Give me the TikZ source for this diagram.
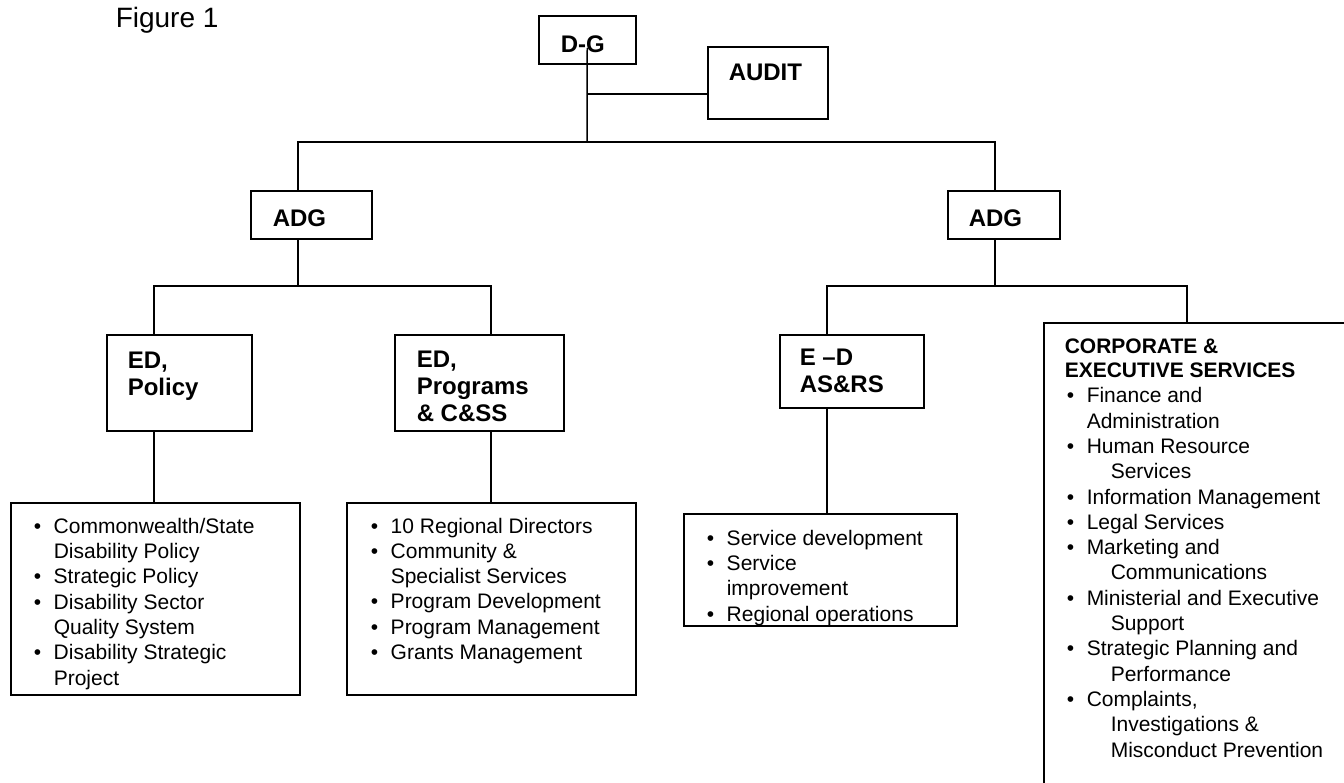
\documentclass[tikz,border=0pt]{standalone}
\usepackage{fontspec}
\setmainfont{Liberation Sans}
\newcommand{\bul}{\makebox[10pt][l]{\textbullet}}
\newcommand{\ind}[1][10pt]{\hspace*{#1}}
\begin{document}
\begin{tikzpicture}[x=0.5pt,y=-0.5pt,line width=0.75pt,
    box/.style 2 args={draw, anchor=north west, inner sep=0pt, minimum width=#1*0.5pt, minimum height=#2*0.5pt},
    head/.style={anchor=base west, inner sep=0pt, align=left, font=\bfseries\fontsize{12}{13.5}\selectfont},
    items/.style={anchor=base west, inner sep=0pt, align=left, font=\fontsize{10.5}{12.65}\selectfont}]
    \useasboundingbox (0,0) rectangle (1344,782);
    \clip (0,0) rectangle (1344,782);
    \node [anchor=base west, inner sep=0pt, font=\fontsize{14}{16}\selectfont] (fig) at (115,27) {Figure 1};
    \node [box={97}{48}] (dg) at (538,15) {};
    \node [box={120}{72}] (audit) at (707,46) {};
    \node [box={121}{48}] (adgl) at (250,190) {};
    \node [box={112}{48}] (adgr) at (947,190) {};
    \node [box={145}{96}] (policy) at (106,334) {};
    \node [box={169}{96}] (programs) at (394,334) {};
    \node [box={144}{73}] (asrs) at (779,334) {};
    \node [box={400}{500}] (corp) at (1043,322) {};
    \node [box={289}{192}] (policylist) at (10,502) {};
    \node [box={289}{192}] (programslist) at (346,502) {};
    \node [box={273}{112}] (asrslist) at (683,513) {};
    % multi-line texts sit on the baseline of their last line
    \node [head] (dg-t) at ([shift={(22,37)}]dg.north west) {D-G};
    \node [head] (audit-t) at ([shift={(21,34)}]audit.north west) {AUDIT};
    \node [head] (adgl-t) at ([shift={(22,36)}]adgl.north west) {ADG};
    \node [head] (adgr-t) at ([shift={(21,36)}]adgr.north west) {ADG};
    \node [head] (policy-t) at ([shift={(21,61)}]policy.north west) {ED,\\Policy};
    \node [head] (programs-t) at ([shift={(22,87)}]programs.north west) {ED,\\Programs\\\& C\&SS};
    \node [head] (asrs-t) at ([shift={(20,58)}]asrs.north west) {E --D\\AS\&RS};
    \node [head, font=\bfseries\fontsize{10.5}{12}\selectfont] (corp-t) at ([shift={(21,55)}]corp.north west)
        {CORPORATE \&\\EXECUTIVE SERVICES};
    \node [items] (corp-l) at ([shift={(23,435)}]corp.north west) {%
        \bul Finance and\\\ind Administration\\
        \bul Human Resource\\\ind[22pt]Services\\
        \bul Information Management\\
        \bul Legal Services\\
        \bul Marketing and\\\ind[22pt]Communications\\
        \bul Ministerial and Executive\\\ind[22pt]Support\\
        \bul Strategic Planning and\\\ind[22pt]Performance\\
        \bul Complaints,\\\ind[22pt]Investigations \&\\\ind[22pt]Misconduct Prevention};
    \node [items] (policylist-l) at ([shift={(23,183)}]policylist.north west) {%
        \bul Commonwealth/State\\\ind Disability Policy\\
        \bul Strategic Policy\\
        \bul Disability Sector\\\ind Quality System\\
        \bul Disability Strategic\\\ind Project};
    \node [items] (programslist-l) at ([shift={(24,157.5)}]programslist.north west) {%
        \bul 10 Regional Directors\\
        \bul Community \&\\\ind Specialist Services\\
        \bul Program Development\\
        \bul Program Management\\
        \bul Grants Management};
    \node [items] (asrslist-l) at ([shift={(23,108)}]asrslist.north west) {%
        \bul Service development\\
        \bul Service\\\ind improvement\\
        \bul Regional operations};
    \coordinate (top) at (587,142);
    \coordinate (lbar) at (298,286);
    \coordinate (rbar) at (995,286);
    \draw ([yshift=-4pt]dg.center) -- (top);
    \draw (top |- 0,94) -- (audit.west |- 0,94);
    \draw (298,0 |- adgl.north) |- (top) -| (995,0 |- adgr.north);
    \draw (298,0 |- adgl.south) -- (lbar);
    \draw (154,0 |- policy.north) |- (lbar) -| (491,0 |- programs.north);
    \draw (154,0 |- policy.south) -- (154,0 |- policylist.north);
    \draw (491,0 |- programs.south) -- (491,0 |- programslist.north);
    \draw (995,0 |- adgr.south) -- (rbar);
    \draw (827,0 |- asrs.north) |- (rbar) -| (1187,0 |- corp.north);
    \draw (827,0 |- asrs.south) -- (827,0 |- asrslist.north);
\end{tikzpicture}
\end{document}
